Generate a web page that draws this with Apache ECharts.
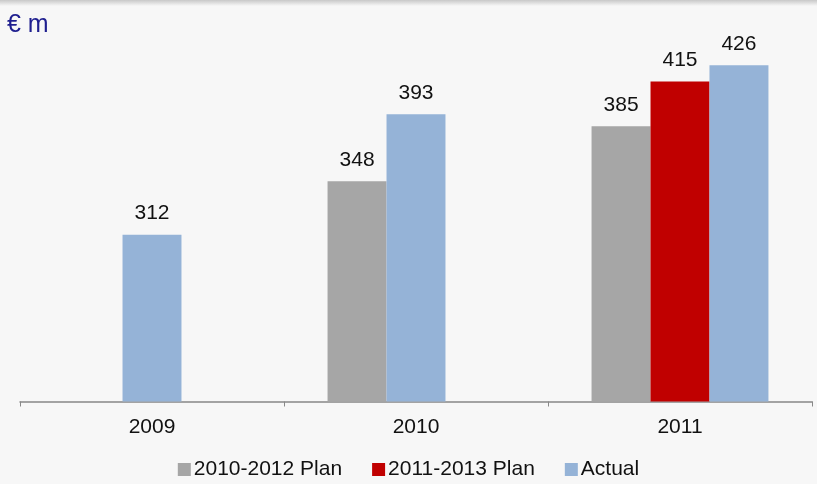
<!DOCTYPE html>
<html><head><meta charset="utf-8">
<script src="https://cdn.jsdelivr.net/npm/echarts@6/dist/echarts.min.js"></script>
<style>html,body{margin:0;padding:0;background:#f7f7f7}#c{width:817px;height:484px}</style>
</head><body><div id="c"></div>
<script>
const categories = ['2009', '2010', '2011'];
const plan2010 = [null, 348, 385];      // 2010-2012 Plan (grey)
const middleSlot = [312, 393, 415];     // 2009/2010 Actual, 2011 = 2011-2013 Plan
const middleIsActual = [true, true, false];
const actual2011 = [null, null, 426];   // Actual 2011
const unitLabel = '€ m';

const GREY = '#a6a6a6', RED = '#c00000', BLUE = '#95b3d7';
const FONT = 'Liberation Sans, Arial, sans-serif';
const chart = echarts.init(document.getElementById('c'), null, {renderer: 'canvas'});
const lbl = {show: true, position: 'top', distance: 11, color: '#111', fontSize: 21, fontFamily: FONT};
chart.setOption({
  backgroundColor: '#f7f7f7',
  animation: false,
  graphic: [
    {type: 'rect', shape: {x: 0, y: 0, width: 817, height: 6}, style: {fill: new echarts.graphic.LinearGradient(0,0,0,1,[{offset:0,color:'#c8c8c8'},{offset:1,color:'#f7f7f7'}])}, z: -1},
    {type: 'text', left: 7, top: 13, style: {text: unitLabel, fill: '#1f1f8f', fontSize: 25, fontFamily: FONT}}
  ],
  grid: {left: 20, right: 5, top: 29.5, bottom: 82.5},
  legend: {
    bottom: -1, left: 'center', itemWidth: 13, itemHeight: 13, itemGap: 30,
    icon: 'rect',
    textStyle: {fontSize: 21, color: '#111', fontFamily: FONT, padding: [0,0,0,-2]},
    data: ['2010-2012 Plan', '2011-2013 Plan', 'Actual']
  },
  xAxis: {
    type: 'category', data: categories,
    axisLine: {lineStyle: {color: '#888', width: 1.5}},
    axisTick: {show: true, length: 5, lineStyle: {color: '#888'}},
    axisLabel: {color: '#111', fontSize: 21, margin: 15, fontFamily: FONT}
  },
  yAxis: {type: 'value', min: 200, max: 450, show: false, splitLine: {show: false}},
  series: [
    {name: '2010-2012 Plan', type: 'bar', data: plan2010, barGap: '0%', barCategoryGap: '33%', itemStyle: {color: GREY}, label: lbl},
    {name: '2011-2013 Plan', type: 'bar', itemStyle: {color: RED}, label: lbl,
      data: middleSlot.map((v, i) => ({value: v, itemStyle: {color: middleIsActual[i] ? BLUE : RED}}))},
    {name: 'Actual', type: 'bar', data: actual2011, itemStyle: {color: BLUE}, label: lbl}
  ]
});
</script></body></html>
